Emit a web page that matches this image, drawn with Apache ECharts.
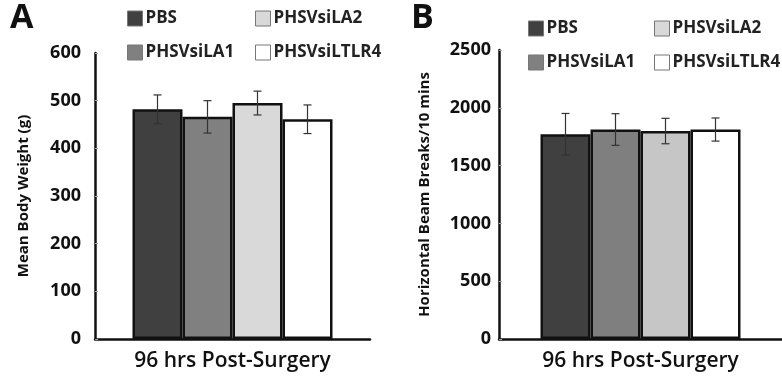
<!DOCTYPE html>
<html>
<head>
<meta charset="utf-8">
<script src="https://cdn.jsdelivr.net/npm/echarts@6/dist/echarts.min.js"></script>
<style>
  html, body { margin: 0; padding: 0; background: #fff; }
  #chart { width: 782px; height: 379px; }
</style>
</head>
<body>
<div id="chart"></div>
<script>
// groups and values
const groups = ['PBS', 'PHSVsiLA1', 'PHSVsiLA2', 'PHSVsiLTLR4'];
const category = ['96 hrs Post-Surgery'];

const weightMean = [482, 466, 495, 461];
const weightErr = [30, 34, 25, 30];

const beamMean = [1771, 1812, 1799, 1812];
const beamErr = [180, 137, 110, 100];

const colorsA = ['#404040', '#808080', '#d9d9d9', '#ffffff'];
const colorsB = ['#404040', '#7f7f7f', '#c6c6c6', '#ffffff'];

const BAR_W = 50;
const FONT = '"Open Sans", sans-serif';

function barSeries(gridIdx, means, colors) {
  return groups.map((g, k) => ({
    name: g,
    type: 'bar',
    xAxisIndex: gridIdx,
    yAxisIndex: gridIdx,
    barWidth: BAR_W,
    barGap: '0%',
    data: [means[k]],
    itemStyle: { color: colors[k], borderColor: '#111', borderWidth: 2.5 },
    emphasis: { disabled: true }
  }));
}

function errSeries(gridIdx, means, errs) {
  return {
    type: 'custom',
    xAxisIndex: gridIdx,
    yAxisIndex: gridIdx,
    z: 10,
    data: means.map((m, k) => [0, m - errs[k], m + errs[k], k]),
    renderItem: (params, api) => {
      const lo = api.coord([api.value(0), api.value(1)]);
      const hi = api.coord([api.value(0), api.value(2)]);
      const x = lo[0] + (api.value(3) - 1.5) * BAR_W;
      const cap = 4;
      const st = { stroke: '#333', lineWidth: 1.2 };
      return {
        type: 'group',
        children: [
          { type: 'line', shape: { x1: x, y1: hi[1], x2: x, y2: lo[1] }, style: st },
          { type: 'line', shape: { x1: x - cap, y1: hi[1], x2: x + cap, y2: hi[1] }, style: st },
          { type: 'line', shape: { x1: x - cap, y1: lo[1], x2: x + cap, y2: lo[1] }, style: st }
        ]
      };
    }
  };
}

function legendItem(name, left, top) {
  return {
    data: [name],
    left: left,
    top: top,
    padding: 0,
    itemWidth: 15,
    itemHeight: 15,
    itemGap: 0,
    icon: 'rect',
    selectedMode: false,
    itemStyle: { borderColor: '#777', borderWidth: 1 },
    textStyle: { fontFamily: FONT, fontWeight: 'bold', fontSize: 17, color: '#222', padding: [0, 0, 0, -2] }
  };
}

function xAxisDef(gridIdx) {
  return {
    type: 'category',
    gridIndex: gridIdx,
    data: category,
    axisLine: { lineStyle: { color: '#111', width: 2.5 } },
    axisTick: { show: false },
    axisLabel: { fontFamily: FONT, fontWeight: 600, fontSize: 21, color: '#111', margin: 12 }
  };
}

function yAxisDef(gridIdx, max, interval, name, labelMargin, nameGap) {
  return {
    type: 'value',
    gridIndex: gridIdx,
    min: 0,
    max: max,
    interval: interval,
    name: name,
    nameLocation: 'middle',
    nameGap: nameGap,
    nameTextStyle: { fontFamily: FONT, fontWeight: 'bold', fontSize: 15, color: '#111' },
    axisLine: { show: true, lineStyle: { color: '#111', width: 2.5 } },
    axisTick: { show: true, inside: true, length: 3, lineStyle: { color: '#aaa' } },
    splitLine: { show: false },
    axisLabel: {
      fontFamily: FONT, fontWeight: 'bold', fontSize: 18, color: '#111', margin: labelMargin,
      formatter: v => String(v)
    }
  };
}

const chart = echarts.init(document.getElementById('chart'));
chart.setOption({
  animation: false,
  title: [
    { text: 'A', left: 10, top: 1, padding: 0, textStyle: { fontFamily: FONT, fontWeight: 'bold', fontSize: 34, color: '#111' } },
    { text: 'B', left: 411, top: 1, padding: 0, textStyle: { fontFamily: FONT, fontWeight: 'bold', fontSize: 34, color: '#111' } }
  ],
  legend: [
    legendItem(groups[0], 127, 10),
    legendItem(groups[1], 127, 44),
    legendItem(groups[2], 255, 10),
    legendItem(groups[3], 255, 44),
    legendItem(groups[0], 528, 20),
    legendItem(groups[1], 528, 54),
    legendItem(groups[2], 654, 20),
    legendItem(groups[3], 654, 54)
  ],
  grid: [
    { left: 95, top: 53, width: 275, height: 286 },
    { left: 499, top: 50, width: 283, height: 289 }
  ],
  xAxis: [xAxisDef(0), xAxisDef(1)],
  yAxis: [
    yAxisDef(0, 600, 100, 'Mean Body Weight (g)', 14, 64),
    yAxisDef(1, 2500, 500, 'Horizontal Beam Breaks/10 mins', 8, 67)
  ],
  series: [
    ...barSeries(0, weightMean, colorsA),
    errSeries(0, weightMean, weightErr),
    ...barSeries(1, beamMean, colorsB),
    errSeries(1, beamMean, beamErr)
  ]
});
</script>
</body>
</html>
